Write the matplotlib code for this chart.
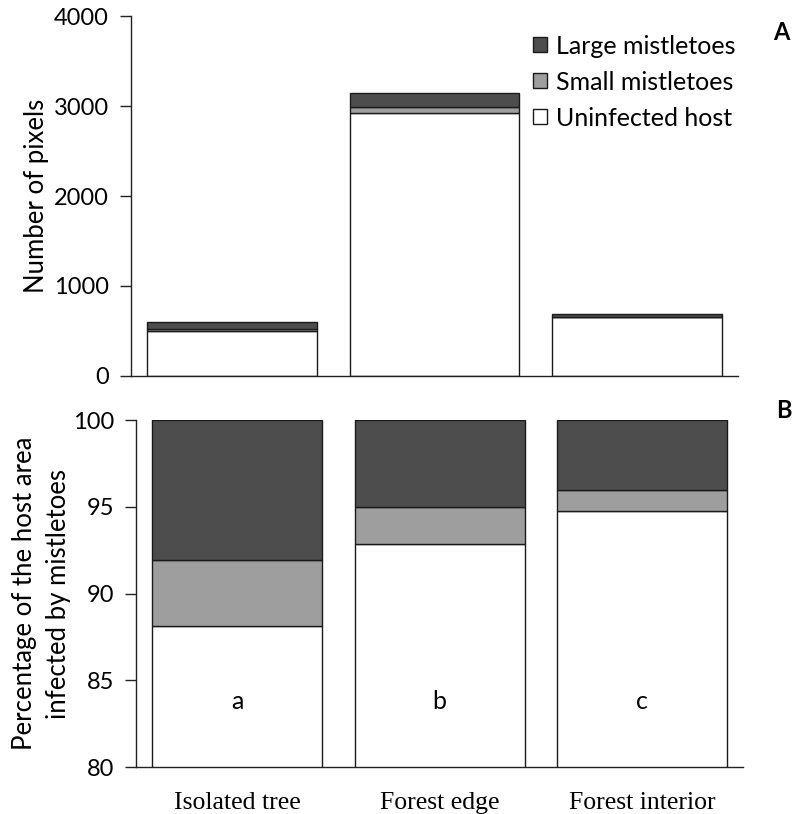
import matplotlib.pyplot as plt
import numpy as np

sites = ["Isolated tree", "Forest edge", "Forest interior"]
series = ["Uninfected host", "Small mistletoes", "Large mistletoes"]
colors = ["#ffffff", "#9e9e9e", "#4d4d4d"]

# panel A: pixel counts per site
pix_uninfected = [503, 2926, 651]
pix_small = [22, 67, 9]
pix_large = [75, 155, 27]

# panel B: cumulative percentage of host area
pct_uninfected = [88.15, 92.85, 94.75]
pct_small = [3.77, 2.15, 1.23]
pct_large = [8.08, 5.0, 4.02]
letters = ["a", "b", "c"]

sans = "Lato"
serif = "Liberation Serif"

fig = plt.figure(figsize=(7.93, 8.14), dpi=100)
axA = fig.add_axes((0.1652, 0.5381, 0.7654, 0.4422))
axB = fig.add_axes((0.1715, 0.0577, 0.7655, 0.4263))

x = np.arange(len(sites))
width = 0.84


def stack(ax, parts, base=0):
    bottom = np.full(len(sites), float(base))
    handles = []
    for vals, c, name in zip(parts, colors, series):
        vals = np.asarray(vals, dtype=float)
        h = ax.bar(x, vals, width, bottom=bottom, color=c, edgecolor="#1a1a1a",
                   linewidth=1.0, label=name)
        handles.append(h)
        bottom += vals
    return handles


def style(ax):
    for s in ["top", "right"]:
        ax.spines[s].set_visible(False)
    for s in ["left", "bottom"]:
        ax.spines[s].set_linewidth(1.0)
        ax.spines[s].set_color("#222222")
    ax.set_xlim(-0.5, len(sites) - 0.5)
    ax.tick_params(axis="y", length=8, width=1.0, color="#222222", labelsize=17, pad=8)
    ax.tick_params(axis="x", length=0)
    for lbl in ax.get_yticklabels():
        lbl.set_family(sans)


# panel A
hA = stack(axA, [pix_uninfected, pix_small, pix_large])
axA.set_ylim(0, 4000)
axA.set_yticks([0, 1000, 2000, 3000, 4000])
axA.set_xticks([])
style(axA)
axA.set_ylabel("Number of pixels", family=sans, fontsize=18.5, labelpad=3)
leg = axA.legend(handles=hA[::-1], loc="upper right", bbox_to_anchor=(1.02, 0.99),
                 frameon=False, prop={"family": sans, "size": 18},
                 handlelength=0.55, handleheight=0.55, handletextpad=0.35,
                 labelspacing=0.52, borderaxespad=0.2)
axA.text(1.085, 0.985, "A", transform=axA.transAxes, family=sans,
         fontsize=17, fontweight="bold", ha="right", va="top")

# panel B
stack(axB, [pct_uninfected, pct_small, pct_large])
axB.set_ylim(80, 100)
axB.set_yticks([80, 85, 90, 95, 100])
axB.set_xticks(x)
axB.set_xticklabels(sites, family=serif, fontsize=18.5)
style(axB)
axB.tick_params(axis="x", pad=18)
axB.set_ylabel("Percentage of the host area\ninfected by mistletoes",
               family=sans, fontsize=18.5, labelpad=1, linespacing=1.45)
for xi, t in zip(x, letters):
    axB.text(xi, 83.8, t, family=sans, fontsize=18, ha="center", va="center")
axB.text(1.08, 1.06, "B", transform=axB.transAxes, family=sans,
         fontsize=17, fontweight="bold", ha="right", va="top")

fig.savefig("out.png", dpi=100)
